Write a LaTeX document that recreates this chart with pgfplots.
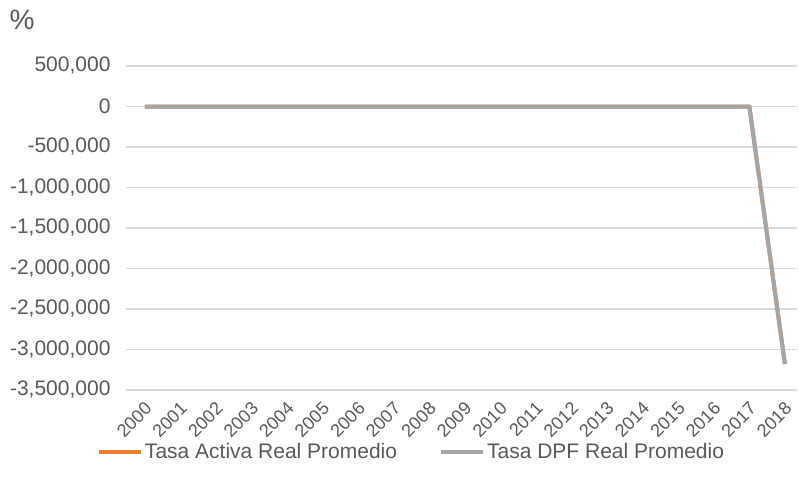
\documentclass[border=0pt]{standalone}
\usepackage{fontspec}
\setmainfont{Liberation Sans}
\usepackage{pgfplots}
\pgfplotsset{compat=1.18}
\definecolor{txtgray}{HTML}{595959}
\definecolor{gridgray}{HTML}{D9D9D9}
\definecolor{xlorange}{HTML}{ED7D31}
\definecolor{xlgray}{HTML}{A5A5A5}
\begin{document}
\begin{tikzpicture}
\begin{axis}[
    scale only axis,
    clip=false,
    width=671pt, height=324pt,
    xmin=-0.53, xmax=18.34,
    ymin=-3500000, ymax=500000,
    ytick={-3500000,-3000000,...,500000},
    xtick={0,...,18},
    xticklabels={2000,2001,2002,2003,2004,2005,2006,2007,2008,2009,2010,2011,2012,2013,2014,2015,2016,2017,2018},
    axis line style={draw=none},
    major tick length=0pt,
    ymajorgrids,
    grid style={gridgray, line width=1.5pt},
    /pgf/number format/.cd, fixed, 1000 sep={,}, assume math mode=true,
    /pgfplots/.cd,
    scaled y ticks=false,
    y tick label style={font=\fontsize{21}{24}\selectfont, text=txtgray, xshift=-12pt},
    x tick label style={font=\fontsize{18}{21}\selectfont, text=txtgray, xshift=-1pt, yshift=-6pt, rotate=45, anchor=north east},
    legend columns=2,
    legend style={draw=none, fill=none, at={(0.4255,-0.19)}, anchor=center,
        font=\fontsize{21}{24}\selectfont, text=txtgray,
        /tikz/every even column/.append style={column sep=40pt}},
    legend image code/.code={\draw[#1] (0pt,0pt) -- (42pt,0pt);},
]
\addplot[xlorange, line width=4pt, line join=round] coordinates {
(0,0) (1,0) (2,0) (3,0) (4,0) (5,0) (6,0) (7,0) (8,0) (9,0) (10,0)
(11,0) (12,0) (13,0) (14,0) (15,0) (16,0) (17,0) (18,-3180000)};
\addlegendentry{Tasa Activa Real Promedio}
\addplot[xlgray, line width=4pt, line join=round] coordinates {
(0,0) (1,0) (2,0) (3,0) (4,0) (5,0) (6,0) (7,0) (8,0) (9,0) (10,0)
(11,0) (12,0) (13,0) (14,0) (15,0) (16,0) (17,0) (18,-3180000)};
\addlegendentry{Tasa DPF Real Promedio}
\node[anchor=center, text=txtgray, font=\fontsize{28}{32}\selectfont] at (rel axis cs:-0.155,1.142) {\%};
\end{axis}
\pgfresetboundingbox
\path (-126pt,-103pt) rectangle (673pt,390pt);
\end{tikzpicture}
\end{document}
